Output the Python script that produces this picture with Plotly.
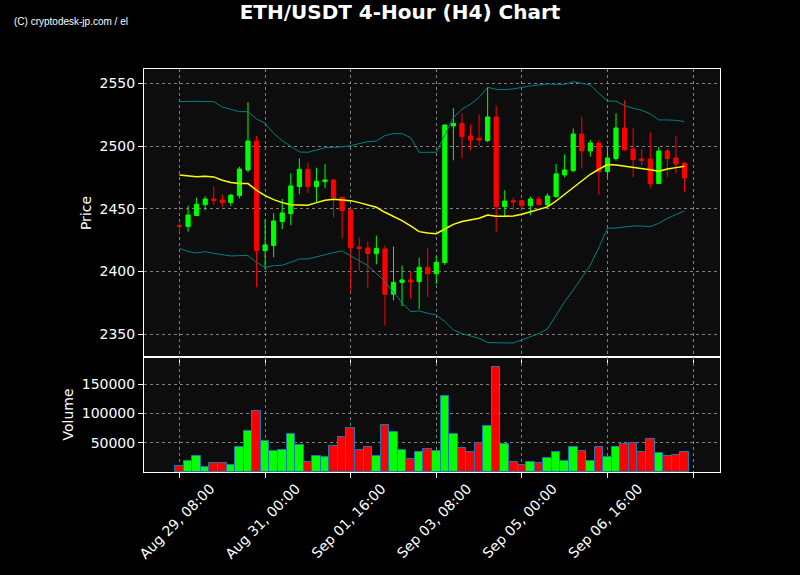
import pandas as pd
import plotly.graph_objects as go
from plotly.subplots import make_subplots

times = pd.date_range("2024-08-29 08:00", periods=60, freq="4h")

opens = [2436.5, 2435.8, 2444.6, 2453.3, 2457.8, 2457.0, 2454.9, 2460.5, 2480.9, 2504.0,
         2416.7, 2420.7, 2439.8, 2446.1, 2467.7, 2481.5, 2467.7, 2471.6, 2473.0, 2459.2,
         2449.1, 2419.6, 2418.8, 2414.3, 2418.0, 2381.9, 2391.2, 2393.3, 2391.9, 2403.4,
         2398.3, 2407.1, 2516.0, 2518.1, 2508.0, 2506.2, 2504.3, 2523.2, 2451.7, 2456.5,
         2456.5, 2452.5, 2457.8, 2453.1, 2459.7, 2477.0, 2480.4, 2509.6, 2496.1, 2502.5,
         2479.6, 2490.0, 2514.4, 2497.7, 2489.7, 2489.7, 2470.1, 2496.1, 2490.5, 2486.5]
highs = [2438.4, 2452.5, 2458.9, 2460.0, 2467.7, 2461.6, 2461.8, 2483.6, 2534.9, 2508.3,
         2441.6, 2446.4, 2457.8, 2478.0, 2490.2, 2486.8, 2482.8, 2485.5, 2473.8, 2459.4,
         2449.6, 2427.0, 2423.8, 2428.6, 2420.7, 2419.9, 2404.7, 2399.9, 2411.1, 2419.1,
         2412.4, 2517.3, 2530.1, 2526.1, 2517.1, 2525.3, 2547.1, 2532.2, 2464.7, 2458.9,
         2456.8, 2459.7, 2460.2, 2462.4, 2485.7, 2493.4, 2514.1, 2523.4, 2504.8, 2504.6,
         2499.5, 2526.1, 2536.5, 2514.1, 2497.7, 2511.0, 2499.5, 2497.7, 2508.0, 2486.5]
lows = [2431.3, 2431.8, 2444.3, 2448.8, 2453.1, 2451.2, 2452.3, 2458.4, 2479.1, 2387.5,
        2402.1, 2411.4, 2433.7, 2436.9, 2461.6, 2462.4, 2455.2, 2466.3, 2443.2, 2426.5,
        2383.5, 2400.5, 2386.7, 2405.8, 2356.9, 2377.1, 2372.3, 2378.2, 2369.9, 2379.7,
        2390.1, 2405.2, 2488.6, 2490.2, 2496.6, 2500.1, 2503.0, 2431.3, 2443.8, 2449.6,
        2450.4, 2444.8, 2453.1, 2451.7, 2458.9, 2475.1, 2479.1, 2482.3, 2491.6, 2461.0,
        2475.1, 2488.4, 2496.3, 2475.1, 2484.4, 2466.3, 2470.1, 2475.1, 2478.0, 2463.1]
closes = [2436.0, 2445.1, 2453.6, 2457.8, 2456.5, 2454.9, 2460.8, 2481.7, 2504.0, 2416.7,
          2421.2, 2440.3, 2446.7, 2468.2, 2481.5, 2467.7, 2471.9, 2473.0, 2458.9, 2448.5,
          2419.1, 2418.3, 2414.3, 2418.3, 2381.9, 2391.4, 2393.3, 2391.7, 2403.4, 2398.3,
          2407.4, 2516.8, 2518.1, 2507.5, 2504.8, 2504.8, 2523.2, 2451.7, 2456.2, 2455.4,
          2452.5, 2457.8, 2453.3, 2460.2, 2477.8, 2480.9, 2509.6, 2496.1, 2502.5, 2479.6,
          2490.5, 2514.4, 2497.1, 2489.2, 2488.6, 2470.1, 2496.1, 2490.0, 2485.7, 2474.6]
volumes = [10260, 18810, 27360, 7980, 15390, 15390, 11970, 42750, 70110, 104310,
           53010, 35910, 37620, 64980, 46170, 17670, 27360, 25650, 44460, 59850,
           75240, 37620, 42750, 27360, 80370, 68400, 37620, 22230, 34200, 39330,
           35910, 129960, 64980, 41040, 34200, 49590, 78660, 178980, 47880, 17100,
           11970, 17100, 15390, 23940, 34200, 18810, 42750, 35910, 18810, 42750,
           25650, 42750, 47880, 49590, 34200, 56430, 32490, 27360, 29070, 34200]
sma = [2477.0, 2476.2, 2475.6, 2475.9, 2475.4, 2472.7, 2470.9, 2470.1, 2470.1, 2464.7,
       2460.5, 2457.3, 2454.9, 2453.3, 2452.8, 2452.8, 2454.9, 2456.8, 2457.6, 2457.3,
       2456.5, 2454.9, 2453.3, 2451.2, 2447.2, 2444.0, 2440.6, 2436.3, 2431.8, 2430.7,
       2430.2, 2433.9, 2437.6, 2439.8, 2440.8, 2442.4, 2445.1, 2444.0, 2444.0, 2444.3,
       2445.6, 2447.7, 2449.6, 2451.5, 2456.2, 2461.6, 2467.1, 2472.2, 2477.5, 2481.5,
       2485.2, 2484.9, 2484.1, 2483.1, 2482.5, 2481.2, 2479.9, 2481.7, 2482.8, 2483.9]
upper = [2535.4, 2535.7, 2535.7, 2535.4, 2535.4, 2531.1, 2529.0, 2527.4, 2527.4, 2521.6,
         2518.1, 2510.2, 2504.3, 2499.5, 2495.3, 2495.0, 2497.1, 2498.7, 2499.0, 2499.3,
         2500.3, 2501.9, 2503.5, 2504.0, 2508.3, 2509.9, 2509.9, 2506.7, 2495.0, 2495.0,
         2495.0, 2508.8, 2522.6, 2529.3, 2533.3, 2538.8, 2546.8, 2545.2, 2545.0, 2545.5,
         2546.8, 2547.9, 2548.7, 2549.5, 2549.2, 2549.2, 2551.3, 2550.0, 2548.7, 2542.0,
         2535.9, 2535.7, 2532.2, 2530.1, 2528.5, 2525.6, 2520.8, 2520.8, 2520.5, 2519.5]
lower = [2418.5, 2415.9, 2414.8, 2415.9, 2414.5, 2413.2, 2412.4, 2412.7, 2412.7, 2407.4,
         2403.1, 2404.7, 2405.0, 2407.4, 2410.0, 2410.0, 2411.9, 2413.2, 2415.1, 2416.4,
         2412.7, 2409.0, 2404.7, 2398.5, 2392.0, 2383.5, 2375.2, 2368.1, 2368.6, 2366.7,
         2365.4, 2360.1, 2353.5, 2350.5, 2348.9, 2346.8, 2343.4, 2343.1, 2343.1, 2343.1,
         2345.5, 2347.9, 2350.5, 2354.3, 2364.9, 2376.0, 2385.3, 2395.6, 2405.2, 2419.1,
         2434.5, 2434.7, 2435.8, 2436.3, 2436.3, 2435.8, 2438.4, 2442.4, 2445.4, 2448.3]

tick_dates = ["2024-08-29 08:00", "2024-08-31 00:00", "2024-09-01 16:00", "2024-09-03 08:00",
              "2024-09-05 00:00", "2024-09-06 16:00", "2024-09-08 08:00"]
tick_labels = ["Aug 29, 08:00", "Aug 31, 00:00", "Sep 01, 16:00", "Sep 03, 08:00",
               "Sep 05, 00:00", "Sep 06, 16:00", ""]

UP = "#00ff00"
DOWN = "#ff0000"
vol_colors = [UP if c >= o else DOWN for o, c in zip(opens, closes)]

fig = make_subplots(rows=2, cols=1, shared_xaxes=True, vertical_spacing=0,
                    row_heights=[0.7146, 0.2854])

fig.add_trace(go.Scatter(x=times, y=upper, mode="lines",
                         line=dict(color="#008080", width=1), hoverinfo="skip"), row=1, col=1)
fig.add_trace(go.Scatter(x=times, y=lower, mode="lines",
                         line=dict(color="#008080", width=1), hoverinfo="skip"), row=1, col=1)
fig.add_trace(go.Candlestick(x=times, open=opens, high=highs, low=lows, close=closes,
                             increasing=dict(line=dict(color=UP, width=1), fillcolor=UP),
                             decreasing=dict(line=dict(color=DOWN, width=1), fillcolor=DOWN)),
              row=1, col=1)
fig.add_trace(go.Scatter(x=times, y=sma, mode="lines",
                         line=dict(color="#ffff00", width=1.5)), row=1, col=1)
fig.add_trace(go.Bar(x=times, y=volumes, marker=dict(color=vol_colors,
                     line=dict(color="#1f77b4", width=1))), row=2, col=1)

axis_common = dict(showline=True, linecolor="white", linewidth=1, mirror=True,
                   gridcolor="#808080", griddash="dot", gridwidth=1,
                   ticks="outside", tickcolor="white", ticklen=5, automargin=False,
                   tickfont=dict(color="white", size=14), zeroline=False)

x_range = ["2024-08-28 15:24", "2024-09-08 20:36"]
fig.update_xaxes(**axis_common, range=x_range, tickvals=tick_dates, ticktext=tick_labels,
                 rangeslider_visible=False)
fig.update_xaxes(showticklabels=False, row=1, col=1)
fig.update_xaxes(tickangle=-45, ticklabelshift=31, ticklabelstandoff=-3, row=2, col=1)

fig.update_yaxes(**axis_common)
fig.update_yaxes(range=[2331.9, 2561.4], tickvals=[2350, 2400, 2450, 2500, 2550],
                 title=dict(text="Price", font=dict(color="white", size=14), standoff=4),
                 row=1, col=1)
fig.update_yaxes(range=[0, 196800], tickvals=[50000, 100000, 150000], tickformat="d",
                 title=dict(text="Volume", font=dict(color="white", size=14), standoff=4),
                 row=2, col=1)

fig.update_layout(
    width=800, height=575,
    font=dict(family="DejaVu Sans", color="white"),
    paper_bgcolor="black", plot_bgcolor="#0d0d0d",
    margin=dict(l=144, r=80, t=69, b=103),
    showlegend=False, bargap=0,
    title=dict(text="<b>ETH/USDT 4-Hour (H4) Chart</b>", x=0.5, xanchor="center",
               y=0.98, yanchor="middle",
               font=dict(color="white", size=20, family="DejaVu Sans")),
    annotations=[dict(text="(C) cryptodesk-jp.com / el", xref="paper", yref="paper",
                      x=-0.229, y=1.119, xanchor="left", yanchor="middle", showarrow=False,
                      font=dict(color="white", size=10, family="Liberation Sans"))],
)

fig.write_html("out.html", config={"displayModeBar": False},
               post_script="document.body.style.margin='0';document.body.style.overflow='hidden';")
